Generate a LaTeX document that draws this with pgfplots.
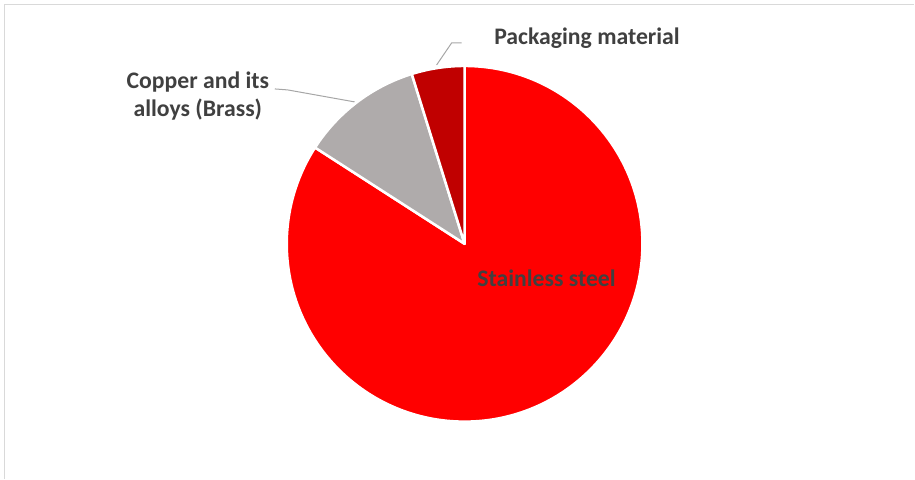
\documentclass[border=0pt]{standalone}
\usepackage{pgfplots}
\pgfplotsset{compat=1.18}
\usepackage{pgfplotstable}
\usepackage{fontspec}
\setmainfont{Carlito}
\definecolor{pieA}{HTML}{FF0000}
\definecolor{pieB}{HTML}{AFABAB}
\definecolor{pieC}{HTML}{C00000}
\definecolor{lbl}{HTML}{404040}
\definecolor{lead}{HTML}{A6A6A6}
\definecolor{frm}{HTML}{D9D9D9}
% share of each material in percent (start and end of each slice, cumulative)
\pgfplotstableread{
label start end idx
Stainless 0.0 84.1 0
Copper 84.1 95.2 1
Packaging 95.2 100.0 2
}\piedata
\begin{document}
\begin{tikzpicture}
\begin{axis}[x=0.75pt,y=0.75pt,xmin=0,xmax=915,ymin=0,ymax=479,hide axis,clip=false]
\path (axis cs:0,0) rectangle (axis cs:915,479);
\draw[frm,line width=1.2pt] (axis cs:4.5,0) -- (axis cs:4.5,474.5) -- (axis cs:915,474.5);
\addplot[scatter, only marks, mark=*, mark size=0pt, mark options={draw=none,fill=none},
  visualization depends on={\thisrow{start}\as\ps},
  visualization depends on={\thisrow{end}\as\pe},
  visualization depends on={\thisrow{idx}\as\pidx},
  scatter/@pre marker code/.code={%
    \pgfmathsetmacro\aA{90-3.6*\ps}%
    \pgfmathsetmacro\aB{90-3.6*\pe}%
    \pgfmathtruncatemacro\pk{round(\pidx)}%
    \ifcase\pk\def\pc{pieA}\or\def\pc{pieB}\else\def\pc{pieC}\fi
    \fill[fill=\pc,draw=white,line width=1.9pt,line join=round] (0,0) -- (\aA:133.5pt) arc[start angle=\aA,end angle=\aB,radius=133.5pt] -- cycle;
  },
  scatter/@post marker code/.code={}]
  table[x expr=465,y expr=235]{\piedata};
\draw[lead,line width=0.75pt] (axis cs:437,414) -- (axis cs:452,436) -- (axis cs:462,436);
\draw[lead,line width=0.75pt] (axis cs:275,390) -- (axis cs:288,389) -- (axis cs:355,377);
\coordinate (lS) at (axis cs:547,192);
\coordinate (lC1) at (axis cs:198,390);
\coordinate (lC2) at (axis cs:198,362);
\coordinate (lP) at (axis cs:587.5,434);
\end{axis}
\begin{scope}[every node/.style={text=lbl,font=\bfseries\fontsize{17.8}{21}\selectfont,anchor=base,inner sep=0pt}]
\node at (lS) {Stainless steel};
\node at (lC1) {Copper and its};
\node at (lC2) {alloys (Brass)};
\node at (lP) {Packaging material};
\end{scope}
\end{tikzpicture}
\end{document}
